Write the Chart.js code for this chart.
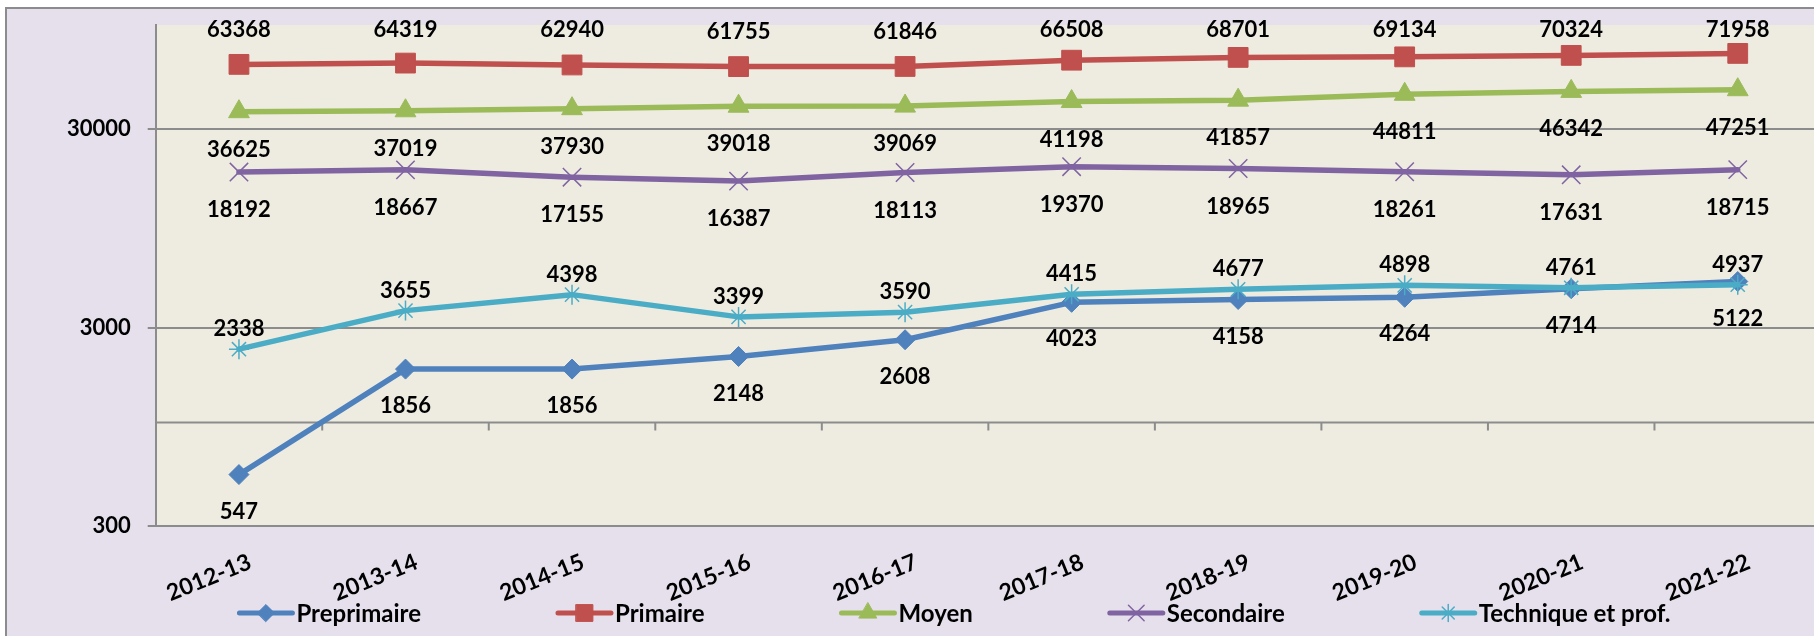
<!DOCTYPE html>
<html>
<head>
<meta charset="utf-8">
<script src="https://cdn.jsdelivr.net/npm/chart.js"></script>
<style>
    body {
        margin: 0;
        background: #ffffff;
        overflow: hidden;
    }
    #frame {
        position: absolute;
        left: 5px;
        top: 7px;
        width: 1900px;
        height: 700px;
        border: 2px solid #8c8c8c;
        background: #E5E0EC;
    }
    #chartBox {
        position: relative;
        width: 1829px;
        height: 640px;
    }
</style>
</head>
<body>
<div id="frame">
    <div id="chartBox"><canvas id="enrolChart"></canvas></div>
</div>
<script>
const years = ['2012-13', '2013-14', '2014-15', '2015-16', '2016-17', '2017-18', '2018-19', '2019-20', '2020-21', '2021-22'];
const preprimaire = [547, 1856, 1856, 2148, 2608, 4023, 4158, 4264, 4714, 5122];
const primaire = [63368, 64319, 62940, 61755, 61846, 66508, 68701, 69134, 70324, 71958];
const moyen = [36625, 37019, 37930, 39018, 39069, 41198, 41857, 44811, 46342, 47251];
const secondaire = [18192, 18667, 17155, 16387, 18113, 19370, 18965, 18261, 17631, 18715];
const technique = [2338, 3655, 4398, 3399, 3590, 4415, 4677, 4898, 4761, 4937];
const yTicks = [300, 3000, 30000];
const axisCross = 1000;

const gridColor = '#8c8c8c';
const labelFont = 'bold 22px Lato';

// beige plot area like the excel original
const plotBackground = {
    id: 'plotBackground',
    beforeDraw(chart) {
        const {ctx, chartArea: a} = chart;
        ctx.save();
        ctx.fillStyle = '#EEECE1';
        ctx.fillRect(a.left, a.top, a.right - a.left, a.bottom - a.top);
        ctx.restore();
    }
};

// horizontal axis crosses the value axis at 1000
const crossAxis = {
    id: 'crossAxis',
    beforeDatasetsDraw(chart) {
        const {ctx, chartArea: a, scales: {x, y}} = chart;
        const yPos = y.getPixelForValue(axisCross);
        ctx.save();
        ctx.strokeStyle = gridColor;
        ctx.lineWidth = 2;
        ctx.beginPath();
        ctx.moveTo(a.left, yPos);
        ctx.lineTo(a.right, yPos);
        for (let i = 0; i < years.length - 1; i++) {
            const xb = (x.getPixelForValue(i) + x.getPixelForValue(i + 1)) / 2;
            ctx.moveTo(xb, yPos);
            ctx.lineTo(xb, yPos + 8);
        }
        ctx.stroke();
        ctx.restore();
    }
};

const valueLabels = {
    id: 'valueLabels',
    afterDatasetsDraw(chart) {
        const {ctx, chartArea: a} = chart;
        ctx.save();
        ctx.font = labelFont;
        ctx.fillStyle = '#000000';
        ctx.textAlign = 'center';
        ctx.textBaseline = 'middle';
        chart.data.datasets.forEach((ds, i) => {
            chart.getDatasetMeta(i).data.forEach((pt, j) => {
                const y = Math.max(pt.y + ds.labelOffset, a.top + 5);
                ctx.fillText(String(ds.data[j]), pt.x, y);
            });
        });
        ctx.restore();
    }
};

const bottomLegend = {
    id: 'bottomLegend',
    afterDraw(chart) {
        const ctx = chart.ctx;
        const lineLen = 53, textGap = 4, itemGap = 137;
        const centerX = 948, y = 604;
        ctx.save();
        ctx.font = 'bold 24px Lato';
        const items = chart.data.datasets.map(ds => ({ds, w: lineLen + textGap + ctx.measureText(ds.label).width}));
        const total = items.reduce((s, it) => s + it.w, 0) + itemGap * (items.length - 1);
        let x = centerX - total / 2;
        items.forEach(({ds, w}) => {
            ctx.strokeStyle = ds.borderColor;
            ctx.lineWidth = 5;
            ctx.lineCap = 'round';
            ctx.beginPath();
            ctx.moveTo(x, y);
            ctx.lineTo(x + lineLen, y);
            ctx.stroke();
            ctx.fillStyle = ds.borderColor;
            ctx.lineWidth = ds.pointBorderWidth;
            Chart.helpers.drawPoint(ctx, {
                pointStyle: ds.pointStyle,
                radius: ds.pointRadius * 0.85,
                borderWidth: ds.pointBorderWidth,
                rotation: 0
            }, x + lineLen / 2, y);
            ctx.fillStyle = '#000000';
            ctx.textAlign = 'left';
            ctx.textBaseline = 'middle';
            ctx.fillText(ds.label, x + lineLen + textGap, y + 1);
            x += w + itemGap;
        });
        ctx.restore();
    }
};

function series(label, data, color, pointStyle, radius, borderW, labelOffset, order) {
    return {
        label: label,
        data: data,
        borderColor: color,
        backgroundColor: color,
        borderWidth: 5.5,
        borderJoinStyle: 'round',
        borderCapStyle: 'round',
        tension: 0,
        pointStyle: pointStyle,
        pointRadius: radius,
        pointBackgroundColor: color,
        pointBorderColor: color,
        pointBorderWidth: borderW,
        labelOffset: labelOffset,
        order: order
    };
}

function drawChart() {
    const ctx = document.getElementById('enrolChart').getContext('2d');
    new Chart(ctx, {
        type: 'line',
        data: {
            labels: years,
            datasets: [
                series('Preprimaire', preprimaire, '#4F81BD', 'rectRot', 10, 1, 37, 5),
                series('Primaire', primaire, '#C0504D', 'rect', 14, 1, -35, 4),
                series('Moyen', moyen, '#9BBB59', 'triangle', 12, 1, 38, 3),
                series('Secondaire', secondaire, '#8064A2', 'crossRot', 13, 1.5, 38, 2),
                series('Technique et prof.', technique, '#4BACC6', 'star', 10, 1.5, -20, 1)
            ]
        },
        options: {
            responsive: true,
            maintainAspectRatio: false,
            animation: false,
            events: [],
            layout: {padding: {top: 16, bottom: 42.6, left: 0, right: 0}},
            plugins: {
                legend: {display: false},
                tooltip: {enabled: false}
            },
            scales: {
                x: {
                    type: 'category',
                    offset: true,
                    grid: {display: false, drawTicks: false, tickLength: 0},
                    border: {display: false},
                    ticks: {
                        autoSkip: false,
                        minRotation: 22,
                        maxRotation: 22,
                        padding: 22,
                        labelOffset: 11,
                        color: '#000000',
                        font: {family: 'Lato', weight: 'bold', size: 23}
                    },
                    afterFit: s => {
                        s.height = 80;
                        s.paddingLeft = 0;
                        s.paddingRight = 0;
                    }
                },
                y: {
                    type: 'logarithmic',
                    min: 300,
                    max: 100000,
                    afterBuildTicks: s => { s.ticks = yTicks.map(v => ({value: v})); },
                    grid: {color: gridColor, lineWidth: 2, tickLength: 8},
                    border: {display: true, color: gridColor, width: 2},
                    ticks: {
                        padding: 17,
                        color: '#000000',
                        font: {family: 'Lato', weight: 'bold', size: 22},
                        callback: v => String(v)
                    },
                    afterFit: s => {
                        s.width = 148.7;
                        s.paddingTop = 0;
                        s.paddingBottom = 0;
                    }
                }
            }
        },
        plugins: [plotBackground, crossAxis, valueLabels, bottomLegend]
    });
}

document.fonts.load(labelFont).then(drawChart, drawChart);
</script>
</body>
</html>
